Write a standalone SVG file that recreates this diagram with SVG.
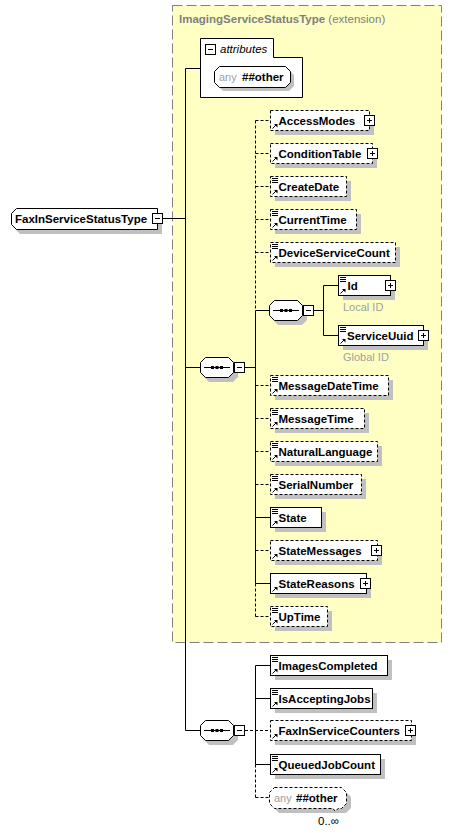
<svg xmlns="http://www.w3.org/2000/svg" xmlns:xlink="http://www.w3.org/1999/xlink" width="452" height="833" viewBox="0 0 452 833">
<style>
.box{fill:#fff;stroke:#000;stroke-width:1}
.opt{stroke-dasharray:3,2}
.sh{fill:#c0c0c0}
.ln{stroke:#000;stroke-width:1;fill:none}
.dl{stroke-dasharray:3,2}
.t{font-family:"Liberation Sans",Arial,sans-serif;font-weight:bold;font-size:11.5px;fill:#000}
.n{font-family:"Liberation Sans",Arial,sans-serif;font-size:11.5px;fill:#000}
.g{font-family:"Liberation Sans",Arial,sans-serif;font-size:11px;fill:#a0a0a0}
.tt{font-family:"Liberation Sans",Arial,sans-serif;font-size:11.5px;fill:#808080}
</style>
<defs>
<g id="plus"><rect x="0.5" y="0.5" width="10" height="10" fill="#fff" stroke="#000"/><path d="M3,5.5H8M5.5,3V8" stroke="#000"/></g>
<g id="minus"><rect x="0.5" y="0.5" width="10" height="10" fill="#fff" stroke="#000"/><path d="M3,5.5H8" stroke="#000"/></g>
<g id="simp"><path d="M0,0.5H6M0,2.5H6M0,4.5H6" stroke="#000"/></g>
<g id="ref"><path d="M0.5,5.5L4,2" stroke="#000"/><path d="M2,1H5.5V4.5Z" fill="#000"/></g>
<g id="seq">
<path class="sh" d="M9,4H33L38,9V20L33,25H9L4,20V9Z"/>
<path class="box" d="M5.5,0.5H28.5L33.5,5.5V15.5L28.5,20.5H5.5L0.5,15.5V5.5Z"/>
<path d="M4,10.5H30" stroke="#000"/>
<rect x="11" y="9" width="3" height="3"/><rect x="15.5" y="9" width="3" height="3"/><rect x="20" y="9" width="3" height="3"/>
<use xlink:href="#minus" x="34" y="5"/>
</g>
</defs>

<!-- extension box -->
<g id="ext">
<rect x="172.5" y="5.5" width="269" height="637" fill="#ffffc4" stroke="#808080" stroke-dasharray="10,4"/>
<text x="179" y="23" class="tt" font-weight="bold">ImagingServiceStatusType <tspan font-weight="normal">(extension)</tspan></text>
</g>

<!-- connectors -->
<g id="connectors">
<path class="ln" d="M162,218.5H185.5M185.5,68.5V730.5M185.5,68.5H200M185.5,367.5H200M185.5,730.5H200"/>
<path class="ln" d="M245,367.5H255.5M255.5,310.5V583.5M255.5,310.5H269M255.5,517.5H270M255.5,583.5H270"/>
<path class="ln dl" d="M255.5,120.5V310.5M255.5,583.5V616.5M255.5,120.5H270M255.5,153.5H270M255.5,186.5H270M255.5,219.5H270M255.5,252.5H270M255.5,385.5H270M255.5,418.5H270M255.5,451.5H270M255.5,484.5H270M255.5,550.5H270M255.5,616.5H270"/>
<path class="ln" d="M314,310.5H323.5M323.5,285.5V335.5M323.5,285.5H338M323.5,335.5H338"/>
<path class="ln" d="M255.5,665.5V764.5M255.5,665.5H270M255.5,698.5H270M255.5,764.5H270"/>
<path class="ln dl" d="M245,730.5H270M255.5,764.5V797.5M255.5,797.5H269"/>
</g>

<!-- root node -->
<g id="FaxInServiceStatusType">
<path class="sh" d="M20,213H162V234H20L15,229V218Z"/>
<path class="box" d="M16.5,208.5H157.5V229.5H16.5L11.5,224.5V213.5Z"/>
<text x="15" y="223" class="t">FaxInServiceStatusType</text>
<use xlink:href="#minus" x="152" y="213"/>
</g>

<!-- attributes -->
<g id="attributes">
<path class="box" d="M200.5,38.5H273.5V57.5H302.5V97.5H200.5Z"/>
<use xlink:href="#minus" x="205" y="44"/>
<text x="220" y="53" class="n" font-style="italic">attributes</text>
<path class="sh" d="M223,70H289L294,75V86L289,91H223L218,86V75Z"/>
<path class="box" d="M219.5,66.5H285.5L290.5,71.5V82.5L285.5,87.5H219.5L214.5,82.5V71.5Z"/>
<text x="219" y="81" class="g" font-size="11.5px">any</text>
<text x="242" y="81" class="t">##other</text>
</g>

<!-- sequences -->
<g id="seq1"><use xlink:href="#seq" x="200" y="357"/></g>
<g id="seq2"><use xlink:href="#seq" x="269" y="300"/></g>
<g id="seq3"><use xlink:href="#seq" x="200" y="720"/></g>

<!-- elements -->
<g id="AccessModes"><rect class="sh" x="275" y="115" width="99" height="20"/><rect class="box opt" x="270.5" y="110.5" width="99" height="20"/><use xlink:href="#ref" x="272" y="123"/><text x="278.5" y="124.5" class="t">AccessModes</text><use xlink:href="#plus" x="364" y="115"/></g>
<g id="ConditionTable"><rect class="sh" x="275" y="148" width="102" height="20"/><rect class="box opt" x="270.5" y="143.5" width="102" height="20"/><use xlink:href="#ref" x="272" y="156"/><text x="278.5" y="157.5" class="t">ConditionTable</text><use xlink:href="#plus" x="367" y="148"/></g>
<g id="CreateDate"><rect class="sh" x="275" y="181" width="76" height="20"/><rect class="box opt" x="270.5" y="176.5" width="76" height="20"/><use xlink:href="#simp" x="272" y="178"/><use xlink:href="#ref" x="272" y="189"/><text x="278.5" y="190.5" class="t">CreateDate</text></g>
<g id="CurrentTime"><rect class="sh" x="275" y="214" width="86" height="20"/><rect class="box opt" x="270.5" y="209.5" width="86" height="20"/><use xlink:href="#simp" x="272" y="211"/><use xlink:href="#ref" x="272" y="222"/><text x="278.5" y="223.5" class="t">CurrentTime</text></g>
<g id="DeviceServiceCount"><rect class="sh" x="275" y="247" width="125" height="20"/><rect class="box opt" x="270.5" y="242.5" width="125" height="20"/><use xlink:href="#simp" x="272" y="244"/><use xlink:href="#ref" x="272" y="255"/><text x="278.5" y="256.5" class="t">DeviceServiceCount</text></g>

<g id="Id"><rect class="sh" x="343" y="280" width="52" height="20"/><rect class="box" x="338.5" y="275.5" width="52" height="20"/><use xlink:href="#simp" x="340" y="277"/><use xlink:href="#ref" x="340" y="288"/><text x="347.5" y="289.5" class="t">Id</text><use xlink:href="#plus" x="385" y="280"/><text x="343" y="311" class="g">Local ID</text></g>
<g id="ServiceUuid"><rect class="sh" x="343" y="330" width="85" height="20"/><rect class="box" x="338.5" y="325.5" width="85" height="20"/><use xlink:href="#simp" x="340" y="327"/><use xlink:href="#ref" x="340" y="338"/><text x="347" y="339.5" class="t">ServiceUuid</text><use xlink:href="#plus" x="418" y="330"/><text x="343" y="361" class="g">Global ID</text></g>

<g id="MessageDateTime"><rect class="sh" x="275" y="380" width="118" height="20"/><rect class="box opt" x="270.5" y="375.5" width="118" height="20"/><use xlink:href="#simp" x="272" y="377"/><use xlink:href="#ref" x="272" y="388"/><text x="278.5" y="389.5" class="t">MessageDateTime</text></g>
<g id="MessageTime"><rect class="sh" x="275" y="413" width="94" height="20"/><rect class="box opt" x="270.5" y="408.5" width="94" height="20"/><use xlink:href="#simp" x="272" y="410"/><use xlink:href="#ref" x="272" y="421"/><text x="278.5" y="422.5" class="t">MessageTime</text></g>
<g id="NaturalLanguage"><rect class="sh" x="275" y="446" width="107" height="20"/><rect class="box opt" x="270.5" y="441.5" width="107" height="20"/><use xlink:href="#simp" x="272" y="443"/><use xlink:href="#ref" x="272" y="454"/><text x="278.5" y="455.5" class="t">NaturalLanguage</text></g>
<g id="SerialNumber"><rect class="sh" x="275" y="479" width="91" height="20"/><rect class="box opt" x="270.5" y="474.5" width="91" height="20"/><use xlink:href="#simp" x="272" y="476"/><use xlink:href="#ref" x="272" y="487"/><text x="278.5" y="488.5" class="t">SerialNumber</text></g>
<g id="State"><rect class="sh" x="275" y="512" width="51" height="20"/><rect class="box" x="270.5" y="507.5" width="51" height="20"/><use xlink:href="#simp" x="272" y="509"/><use xlink:href="#ref" x="272" y="520"/><text x="278.5" y="521.5" class="t">State</text></g>
<g id="StateMessages"><rect class="sh" x="275" y="545" width="107" height="20"/><rect class="box opt" x="270.5" y="540.5" width="107" height="20"/><use xlink:href="#ref" x="272" y="553"/><text x="278.5" y="554.5" class="t">StateMessages</text><use xlink:href="#plus" x="371" y="545"/></g>
<g id="StateReasons"><rect class="sh" x="275" y="578" width="96" height="20"/><rect class="box" x="270.5" y="573.5" width="96" height="20"/><use xlink:href="#ref" x="272" y="586"/><text x="278.5" y="587.5" class="t">StateReasons</text><use xlink:href="#plus" x="360" y="578"/></g>
<g id="UpTime"><rect class="sh" x="275" y="611" width="57" height="20"/><rect class="box opt" x="270.5" y="606.5" width="57" height="20"/><use xlink:href="#simp" x="272" y="608"/><use xlink:href="#ref" x="272" y="619"/><text x="278.5" y="620.5" class="t">UpTime</text></g>

<g id="ImagesCompleted"><rect class="sh" x="275" y="660" width="117" height="20"/><rect class="box" x="270.5" y="655.5" width="117" height="20"/><use xlink:href="#simp" x="272" y="657"/><use xlink:href="#ref" x="272" y="668"/><text x="278.5" y="669.5" class="t">ImagesCompleted</text></g>
<g id="IsAcceptingJobs"><rect class="sh" x="275" y="693" width="102" height="20"/><rect class="box" x="270.5" y="688.5" width="102" height="20"/><use xlink:href="#simp" x="272" y="690"/><use xlink:href="#ref" x="272" y="701"/><text x="278.5" y="702.5" class="t">IsAcceptingJobs</text></g>
<g id="FaxInServiceCounters"><rect class="sh" x="275" y="725" width="141" height="20"/><rect class="box opt" x="270.5" y="720.5" width="141" height="20"/><use xlink:href="#ref" x="272" y="733"/><text x="278.5" y="734.5" class="t">FaxInServiceCounters</text><use xlink:href="#plus" x="405" y="725"/></g>
<g id="QueuedJobCount"><rect class="sh" x="275" y="759" width="110" height="20"/><rect class="box" x="270.5" y="754.5" width="110" height="20"/><use xlink:href="#simp" x="272" y="756"/><use xlink:href="#ref" x="272" y="767"/><text x="278.5" y="768.5" class="t">QueuedJobCount</text></g>

<g id="anyOther">
<path class="sh" d="M279,792H346L351,797V808L346,813H279L274,808V797Z"/>
<path class="box opt" d="M274.5,787.5H341.5L346.5,792.5V803.5L341.5,808.5H338L335.5,811.5L333,808.5H274.5L269.5,803.5V792.5Z"/>
<text x="274" y="802" class="g" font-size="11.5px">any</text>
<text x="296" y="802" class="t">##other</text>
<text x="318" y="825" class="n" font-size="11px">0..∞</text>
</g>
</svg>
